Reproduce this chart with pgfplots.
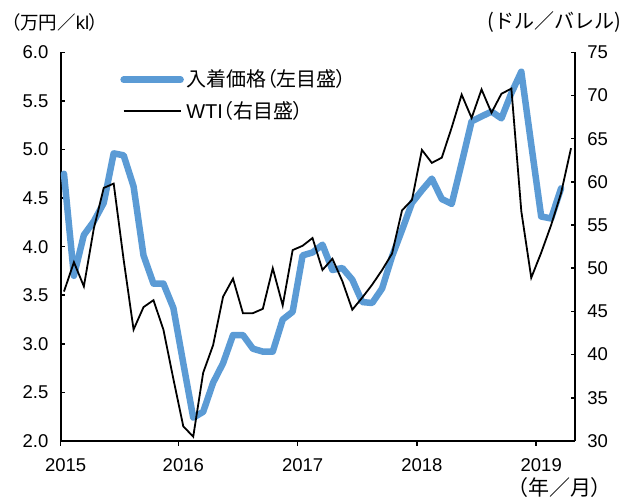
\documentclass[border=0pt]{standalone}
\usepackage{pgfplots}
\pgfplotsset{compat=1.18}
\usepackage{pgfplotstable}
\usepackage{fontspec}
\setmainfont{Liberation Sans}
\newfontfamily\jp[RawFeature=+palt]{Noto Sans CJK JP}
\newfontfamily\jpn{Noto Sans CJK JP}
\definecolor{oilblue}{RGB}{91,155,213}

% 入着価格 (万円/kl), month index 0 = 2015/1
\pgfplotstableread{
m v
0 4.75
1 3.70
2 4.12
3 4.26
4 4.45
5 4.96
6 4.94
7 4.62
8 3.91
9 3.62
10 3.62
11 3.37
12 2.80
13 2.24
14 2.30
15 2.60
16 2.80
17 3.09
18 3.09
19 2.95
20 2.92
21 2.92
22 3.25
23 3.33
24 3.91
25 3.94
26 4.02
27 3.76
28 3.78
29 3.66
30 3.43
31 3.42
32 3.57
33 3.90
34 4.17
35 4.45
36 4.58
37 4.70
38 4.49
39 4.44
40 4.86
41 5.29
42 5.34
43 5.39
44 5.32
45 5.58
46 5.80
47 5.05
48 4.31
49 4.29
50 4.60
}\cif

% WTI (ドル/バレル)
\pgfplotstableread{
m v
0 47.3
1 50.7
2 47.9
3 54.6
4 59.3
5 59.8
6 51.0
7 42.9
8 45.5
9 46.3
10 42.9
11 37.2
12 31.7
13 30.5
14 37.9
15 41.1
16 46.7
17 48.8
18 44.8
19 44.8
20 45.3
21 50.0
22 45.7
23 52.1
24 52.6
25 53.5
26 49.8
27 51.1
28 48.5
29 45.2
30 46.6
31 48.1
32 49.8
33 51.7
34 56.7
35 57.9
36 63.7
37 62.2
38 62.8
39 66.3
40 70.1
41 67.4
42 70.7
43 68.0
44 70.2
45 70.8
46 56.6
47 48.9
48 51.8
49 55.0
50 58.7
51 63.9
}\wti

\pgfplotsset{
  common/.style={
    at={(0,0)}, anchor=south west,
    scale only axis, width=514.3bp, height=388.7bp,
    xmin=-0.33, xmax=51.4,
    axis line style={line width=2bp},
    tick style={line width=1.5bp, black},
    major tick length=4.5bp,
  },
}

\begin{document}
\fontsize{18.5bp}{21bp}\selectfont
\begin{tikzpicture}
\path[use as bounding box] (-60.7bp,-57bp) rectangle (562.3bp,441bp);

% left axis: 入着価格
\begin{axis}[common,
  ymin=2, ymax=6, ytick distance=0.5,
  axis y line*=left, axis x line=none,
  tick align=inside,
  yticklabel style={xshift=-6bp, /pgf/number format/fixed, /pgf/number format/fixed zerofill, /pgf/number format/precision=1, /pgf/number format/assume math mode=true},
]
\addplot[oilblue, line width=6.5bp, line cap=round, line join=round] table[x=m, y=v] {\cif};
\end{axis}

% right axis: WTI
\begin{axis}[common,
  ymin=30, ymax=75, ytick distance=5,
  axis y line*=right, axis x line=none,
  tick align=inside,
  yticklabel style={xshift=6bp, /pgf/number format/assume math mode=true},
  legend style={at={(rel axis cs:0.1156,0.962)}, anchor=north west, draw=none, fill=none,
    legend cell align=left, row sep=6.5bp, inner sep=0pt,
    nodes={inner sep=2.5bp}, font=\fontsize{20bp}{22bp}\selectfont},
  legend image code/.code={\draw[#1] (0bp,0bp) -- (57bp,0bp);},
]
\addlegendimage{oilblue, line width=6.5bp, line cap=round}
\addlegendentry{{\jp 入着価格（左目盛）}}
\addplot[black, line width=1.8bp, line join=miter] table[x=m, y=v] {\wti};
\addlegendentry{WTI{\jp （右目盛）}}
\end{axis}

% x axis
\begin{axis}[common,
  ymin=0, ymax=1,
  axis x line*=bottom, axis y line=none,
  tick align=outside,
  xtick={-0.33,11.5,23.5,35.5,47.5},
  xticklabels={2015,2016,2017,2018,2019},
  x tick label style={xshift=5bp, yshift=-7bp},
]
\addplot[draw=none] coordinates {(0,0)};
\end{axis}

\node[anchor=west] at (-56bp,419bp) {{\jp （万円／}kl{\jp ）}};
\node[anchor=east, inner sep=1bp] at (562bp,419bp) {\fontsize{20bp}{22bp}\selectfont\jpn (ドル／バレル)};
\node at (499bp,-47bp) {\fontsize{21bp}{23bp}\selectfont\jp （年／月）};
\end{tikzpicture}
\end{document}
